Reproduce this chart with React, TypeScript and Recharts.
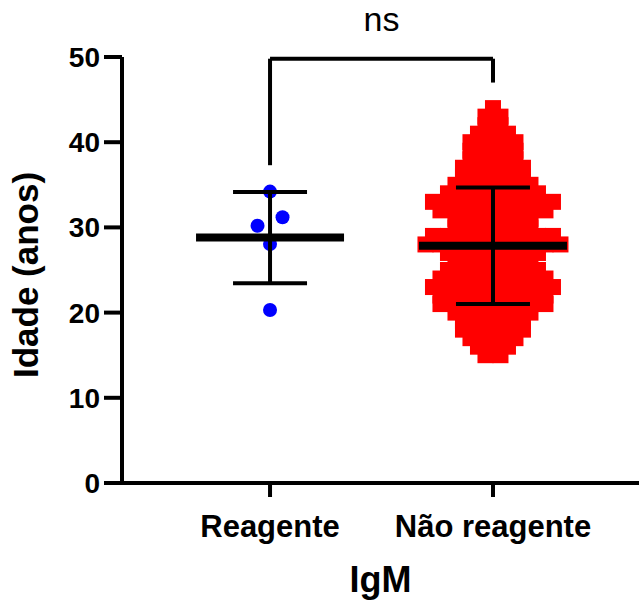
import React from "react";
import {
  ScatterChart,
  Scatter,
  XAxis,
  YAxis,
  ReferenceLine,
} from "recharts";

const categories = ["Reagente", "Não reagente"];
const reagenteAges = [34.2, 31.2, 30.2, 28.05, 20.3];
const naoReagenteAges = [
  15, 16, 17, 18, 19, 20, 21, 22, 23, 24, 25, 26, 27, 28, 29, 30, 31, 32, 33,
  34, 35, 36, 37, 38, 39, 40, 41, 42, 43, 44,
];
const naoReagenteCounts = [
  2, 3, 4, 5, 5, 6, 8, 8, 9, 8, 7, 6, 7, 10, 9, 6, 6, 8, 9, 7, 6, 5, 5, 4, 4,
  4, 3, 2, 2, 1,
];
const groupMeans = [28.8, 27.84];
const groupSds = [5.35, 6.84];
const yTicks = [0, 10, 20, 30, 40, 50];
const bracketTop = 49.8;
const bracketDrops = [37.3, 47];

const FONT = "'Liberation Sans', Arial, sans-serif";

// spread points that share a value bin side by side, like a column scatter
function swarm(values: number[], bin: number, spacing: number, xPos: number) {
  const bins = new Map<number, number[]>();
  values.forEach((v, i) => {
    const k = Math.floor(v / bin);
    if (!bins.has(k)) bins.set(k, []);
    bins.get(k)!.push(i);
  });
  const out = values.map((v) => ({ x: xPos, y: v, dx: 0 }));
  bins.forEach((idx) => {
    idx.sort((a, b) => values[a] - values[b]);
    idx.forEach((i, j) => {
      out[i].dx = (j - (idx.length - 1) / 2) * spacing;
    });
  });
  return out;
}

const naoReagenteValues = naoReagenteAges.flatMap((age, i) =>
  Array.from({ length: naoReagenteCounts[i] }, () => age)
);

const blueData = swarm(reagenteAges, 2, 25, 1);
const redData = swarm(naoReagenteValues, 1, 15, 2);
const meanData = groupMeans.map((m, i) => ({ x: i + 1, y: m }));
const sdData = groupMeans.map((m, i) => [
  { x: i + 1, y: m - groupSds[i] },
  { x: i + 1, y: m + groupSds[i] },
]);

const BlueDot = (props: any) => (
  <circle cx={props.cx + props.payload.dx} cy={props.cy} r={7} fill="#0000ff" />
);

const RedSquare = (props: any) => (
  <rect
    x={props.cx + props.payload.dx - 8}
    y={props.cy - 8}
    width={16}
    height={16}
    fill="#ff0000"
  />
);

const MeanBar = (props: any) => (
  <line
    x1={props.cx - 74}
    x2={props.cx + 74}
    y1={props.cy}
    y2={props.cy}
    stroke="#000"
    strokeWidth={8}
  />
);

const Cap = (props: any) => (
  <line
    x1={props.cx - 37}
    x2={props.cx + 37}
    y1={props.cy}
    y2={props.cy}
    stroke="#000"
    strokeWidth={4}
  />
);

const YTitle = (props: any) => {
  const vb = props.viewBox;
  const x = vb.x + 38;
  const y = vb.y + vb.height / 2 + 5;
  return (
    <text
      x={x}
      y={y}
      transform={`rotate(-90, ${x}, ${y})`}
      textAnchor="middle"
      fontSize={35}
      fontWeight="bold"
      fill="#000"
      fontFamily={FONT}
    >
      Idade (anos)
    </text>
  );
};

const XTitle = (props: any) => {
  const vb = props.viewBox;
  return (
    <text
      x={vb.x + vb.width / 2}
      y={vb.y + vb.height - 10}
      textAnchor="middle"
      fontSize={36}
      fontWeight="bold"
      fill="#000"
      fontFamily={FONT}
    >
      IgM
    </text>
  );
};

const line = { stroke: "#000", strokeWidth: 4 };

export default function App() {
  return (
    <div style={{ position: "absolute", left: 0, top: 0 }}>
      <ScatterChart
        width={639}
        height={602}
        margin={{ top: 57, right: 0, bottom: 0, left: 0 }}
        style={{ fontFamily: FONT }}
      >
        <XAxis
          type="number"
          dataKey="x"
          domain={[0.336, 2.655]}
          allowDataOverflow
          ticks={[1, 2]}
          tickFormatter={(v: number) => categories[v - 1]}
          height={119}
          tickSize={14}
          tickMargin={18}
          axisLine={line}
          tickLine={line}
          tick={{ fontSize: 31, fontWeight: "bold", fill: "#000" }}
          label={<XTitle />}
        />
        <YAxis
          type="number"
          dataKey="y"
          domain={[0, 50]}
          ticks={yTicks}
          width={122}
          tickSize={18}
          tickMargin={4}
          axisLine={line}
          tickLine={line}
          tick={{ fontSize: 28, fontWeight: "bold", fill: "#000" }}
          label={<YTitle />}
        />
        <ReferenceLine
          segment={[
            { x: 1, y: bracketTop },
            { x: 2, y: bracketTop },
          ]}
          {...line}
          label={{
            value: "ns",
            position: "top",
            offset: 28,
            fontSize: 34,
            fill: "#000",
          }}
        />
        <ReferenceLine
          segment={[
            { x: 1, y: bracketTop },
            { x: 1, y: bracketDrops[0] },
          ]}
          {...line}
        />
        <ReferenceLine
          segment={[
            { x: 2, y: bracketTop },
            { x: 2, y: bracketDrops[1] },
          ]}
          {...line}
        />
        <Scatter data={redData} shape={RedSquare} isAnimationActive={false} />
        <Scatter data={blueData} shape={BlueDot} isAnimationActive={false} />
        {sdData.map((d, i) => (
          <Scatter
            key={`sd${i}`}
            data={d}
            shape={Cap}
            line={line}
            isAnimationActive={false}
          />
        ))}
        <Scatter data={meanData} shape={MeanBar} isAnimationActive={false} />
      </ScatterChart>
    </div>
  );
}
